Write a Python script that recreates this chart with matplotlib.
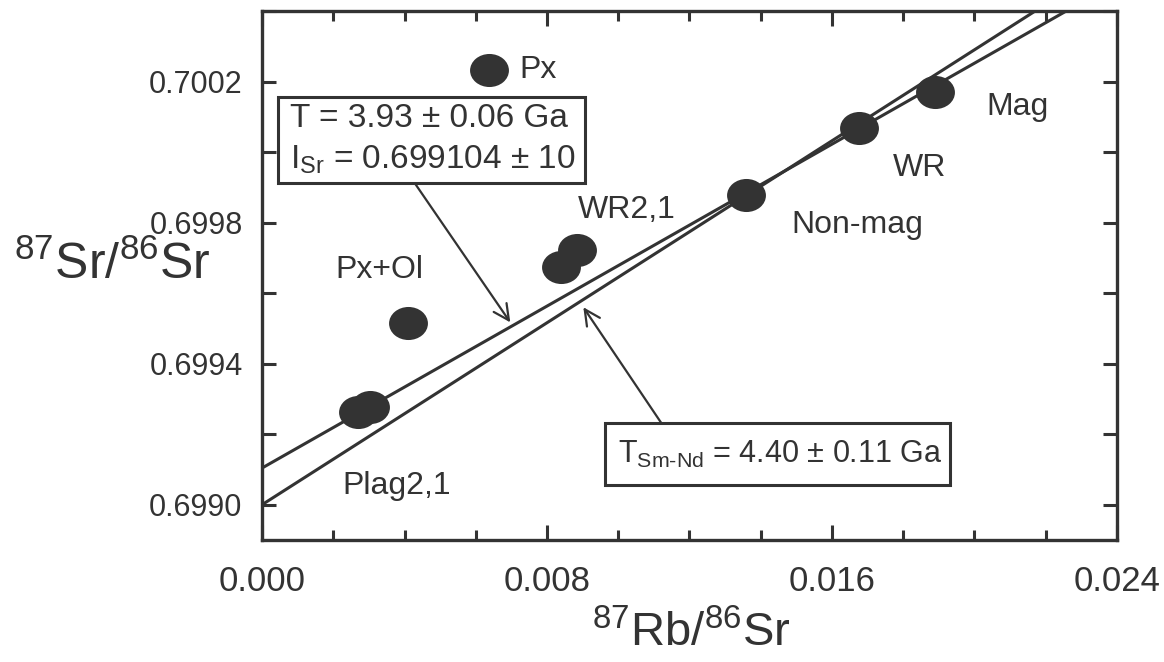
import numpy as np
import matplotlib
matplotlib.use("Agg")
import matplotlib.pyplot as plt
from matplotlib.path import Path
from matplotlib.transforms import Affine2D
from matplotlib.patches import Rectangle

plt.rcParams['font.family'] = ['Liberation Sans', 'DejaVu Sans']
plt.rcParams['mathtext.fontset'] = 'custom'
plt.rcParams['mathtext.rm'] = 'Liberation Sans'
plt.rcParams['mathtext.it'] = 'Liberation Sans'
plt.rcParams['mathtext.default'] = 'regular'

ink = '#333333'

# samples: 87Rb/86Sr , 87Sr/86Sr
sample_names = ['Plag2', 'Plag1', 'Px+Ol', 'Px', 'WR2', 'WR1', 'Non-mag', 'WR', 'Mag']
rb_sr = [0.00270, 0.00303, 0.00410, 0.00638, 0.00840, 0.00885, 0.01360, 0.01677, 0.01888]
sr_sr = [0.699262, 0.699276, 0.699515, 0.700234, 0.699674, 0.699722, 0.699879, 0.700069, 0.700171]

# reference lines (intercept, slope)
isochron_rbsr = (0.699104, 0.0574)   # T = 3.93 Ga
isochron_smnd = (0.699000, 0.0645)   # T(Sm-Nd) = 4.40 Ga

# point labels: text, x, y, horizontal alignment
label_text = ['Px', 'Mag', 'WR', 'Non-mag', 'WR2,1', 'Px+Ol', 'Plag2,1']
label_x = [0.00722, 0.02122, 0.01846, 0.01672, 0.01023, 0.00329, 0.00379]
label_y = [0.700234, 0.700129, 0.699955, 0.699793, 0.699836, 0.699665, 0.699054]
label_ha = ['left', 'center', 'center', 'center', 'center', 'center', 'center']

x_major = [0.000, 0.008, 0.016, 0.024]
y_major = [0.6990, 0.6994, 0.6998, 0.7002]

fig = plt.figure(figsize=(11.64, 6.62), dpi=100)
ax = fig.add_axes([0.2251, 0.1843, 0.7345, 0.7991])
ax.set_xlim(0, 0.024)
ax.set_ylim(0.6989, 0.7004)

# lines
for b, m in (isochron_rbsr, isochron_smnd):
    ax.axline((0, b), slope=m, color=ink, lw=2.2, zorder=2)

# oval markers
oval = Path.unit_circle().transformed(Affine2D().scale(1.0, 0.85))
ax.plot(rb_sr, sr_sr, linestyle='none', marker=oval, markersize=28,
        color=ink, markeredgewidth=0, zorder=3)

for t, x, y, ha in zip(label_text, label_x, label_y, label_ha):
    ax.text(x, y, t, ha=ha, va='center', fontsize=23, color=ink)

# boxes with results
ax.add_patch(Rectangle((0.0187, 0.6749), 0.3591, 0.1625, transform=ax.transAxes,
                       fill=True, facecolor='white', edgecolor=ink, lw=2.2, zorder=4))
ax.text(0.0327, 0.7977, 'T = 3.93 ± 0.06 Ga', transform=ax.transAxes,
        ha='left', va='center', fontsize=24, color=ink, zorder=5)
ax.text(0.0327, 0.7183, 'I$_{Sr}$ = 0.699104 ± 10', transform=ax.transAxes,
        ha='left', va='center', fontsize=24, color=ink, zorder=5)

ax.add_patch(Rectangle((0.4012, 0.1040), 0.4035, 0.1172, transform=ax.transAxes,
                       fill=True, facecolor='white', edgecolor=ink, lw=2.2, zorder=4))
ax.text(0.4164, 0.1626, r'T$_{Sm\text{-}Nd}$ = 4.40 ± 0.11 Ga', transform=ax.transAxes,
        ha='left', va='center', fontsize=22, color=ink, zorder=5)

# arrows
ax.annotate('', xy=(0.00697, 0.699517), xytext=(0.00430, 0.699910),
            arrowprops=dict(arrowstyle='->', color=ink, lw=1.6, mutation_scale=28,
                            shrinkA=0, shrinkB=0))
ax.annotate('', xy=(0.00902, 0.699560), xytext=(0.01124, 0.699227),
            arrowprops=dict(arrowstyle='->', color=ink, lw=1.6, mutation_scale=28,
                            shrinkA=0, shrinkB=0))

# axes styling
for s in ax.spines.values():
    s.set_linewidth(2.4)
    s.set_color(ink)

ax.set_xticks(x_major)
ax.set_xticks(np.arange(0, 0.0241, 0.002), minor=True)
ax.set_yticks(y_major)
ax.set_yticks(np.arange(0.6990, 0.70041, 0.0002), minor=True)
ax.set_xticklabels([f'{v:.3f}' for v in x_major])
ax.set_yticklabels([f'{v:.4f}' for v in y_major])

ax.tick_params(which='both', direction='in', top=True, right=True, color=ink, width=2.2)
ax.tick_params(axis='x', which='major', length=11, pad=18, labelsize=25, labelcolor=ink)
ax.tick_params(axis='x', which='minor', length=7)
ax.tick_params(axis='y', which='both', length=10, pad=14, labelsize=22, labelcolor=ink)
for lab in ax.get_xticklabels():
    lab.set_fontfamily(['Liberation Sans Narrow', 'Liberation Sans'])

fig.text(0.0962, 0.5997, '$^{87}$Sr/$^{86}$Sr', ha='center', va='center',
         fontsize=36, color=ink)
fig.text(0.5945, 0.042, '$^{87}$Rb/$^{86}$Sr', ha='center', va='center',
         fontsize=34, color=ink, family=['Liberation Sans Narrow', 'Liberation Sans'])

fig.savefig('out.png', dpi=100, facecolor='white')
